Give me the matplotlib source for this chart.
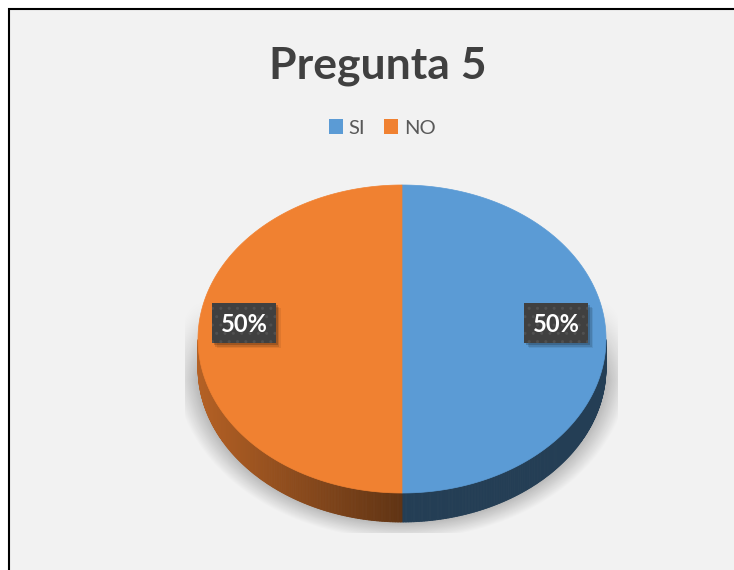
import numpy as np
import matplotlib.pyplot as plt
from matplotlib.patches import Polygon, Rectangle, Patch
from matplotlib.collections import PolyCollection
from matplotlib.colors import to_rgb

plt.rcParams['font.family'] = ['Lato', 'DejaVu Sans']

title = 'Pregunta 5'
labels = ['SI', 'NO']
values = [50, 50]
colors = ['#5B9BD5', '#F08131']

W, H = 734, 570
fig = plt.figure(figsize=(W / 100, H / 100), dpi=100)
ax = fig.add_axes([0, 0, 1, 1])

# chart area frame
ax.add_patch(Rectangle((8.5, 8.5), W, H, facecolor='#f2f2f2', edgecolor='black', lw=1.5, zorder=0))

# pie geometry (pixels)
cx, cy = 402, 339
a, b = 204, 154
depth = 29

# soft shadow under the pie
yy, xx = np.mgrid[0:H, 0:W] + 0.5
r = np.sqrt(((xx - cx) / 219) ** 2 + ((yy - 366) / 167) ** 2)
alpha = np.clip((1.04 - r) / 0.12, 0, 1) * 0.27
alpha *= np.clip((yy - 300) / 80, 0, 1)
alpha[(xx < 185) | (xx > 618) | (yy > 533)] = 0
shadow = np.zeros((H, W, 4))
shadow[..., 3] = alpha
ax.imshow(shadow, extent=(0, W, H, 0), zorder=1, interpolation='bilinear')

total = sum(values)
start = 90.0
wedges = []
for v, c in zip(values, colors):
    t1 = start
    t2 = start - v / total * 360
    wedges.append((t1, t2, c))
    start = t2

# side walls (front half only), shaded by light from the left
for t1, t2, c in wedges:
    t = np.radians(np.linspace(t1, t2, 400))
    t = t[np.sin(t) <= 1e-9]
    if len(t) < 2:
        continue
    ex = cx + a * np.cos(t)
    ey = cy - b * np.sin(t)
    base = np.array(to_rgb(c))
    quads, cols = [], []
    for i in range(len(t) - 1):
        quads.append([(ex[i], ey[i]), (ex[i + 1], ey[i + 1]),
                      (ex[i + 1], ey[i + 1] + depth), (ex[i], ey[i] + depth)])
        mx = (ex[i] + ex[i + 1]) / 2
        f = 0.4 + 0.35 * np.clip((cx - mx) / a, 0, 1)
        cols.append(base * f)
    ax.add_collection(PolyCollection(quads, facecolors=cols, edgecolors=cols, lw=0.6, zorder=2))

# top faces
for t1, t2, c in wedges:
    t = np.radians(np.linspace(t1, t2, 400))
    pts = [(cx, cy)] + list(zip(cx + a * np.cos(t), cy - b * np.sin(t)))
    ax.add_patch(Polygon(pts, closed=True, facecolor=c, edgecolor=c, lw=0.5, zorder=3))

# data labels in dark boxes
bw, bh = 64, 40
for (t1, t2, c), v in zip(wedges, values):
    mid = np.radians((t1 + t2) / 2)
    lx = cx + 0.765 * a * np.cos(mid) - 2
    ly = cy - 0.765 * b * np.sin(mid) - 16
    for k, al in [(2, 0.18), (3.5, 0.12), (5, 0.07)]:
        ax.add_patch(Rectangle((lx - bw / 2 + k, ly - bh / 2 + k), bw, bh,
                               facecolor=(0, 0, 0, al), edgecolor='none', zorder=4))
    ax.add_patch(Rectangle((lx - bw / 2, ly - bh / 2), bw, bh, facecolor='#404040',
                           edgecolor='#505050', lw=0, hatch='..', zorder=4.5))
    ax.text(lx, ly + 1, f'{v / total * 100:.0f}%', ha='center', va='center', color='white',
            fontsize=17, fontweight='bold', zorder=5)

# title and legend
ax.text(378, 78, title, ha='center', va='baseline', fontsize=32, fontweight='bold', color='#404040')
handles = [Patch(facecolor=c, label=l) for l, c in zip(labels, colors)]
ax.legend(handles=handles, loc='center', bbox_to_anchor=(382 / W, 1 - 128 / H), ncol=2,
          frameon=False, fontsize=14.5, handlelength=0.7, handleheight=0.7,
          handletextpad=0.3, columnspacing=0.9, labelcolor='#595959')

ax.set_xlim(0, W)
ax.set_ylim(H, 0)
ax.axis('off')
fig.savefig('out.png', dpi=100, facecolor='white')
